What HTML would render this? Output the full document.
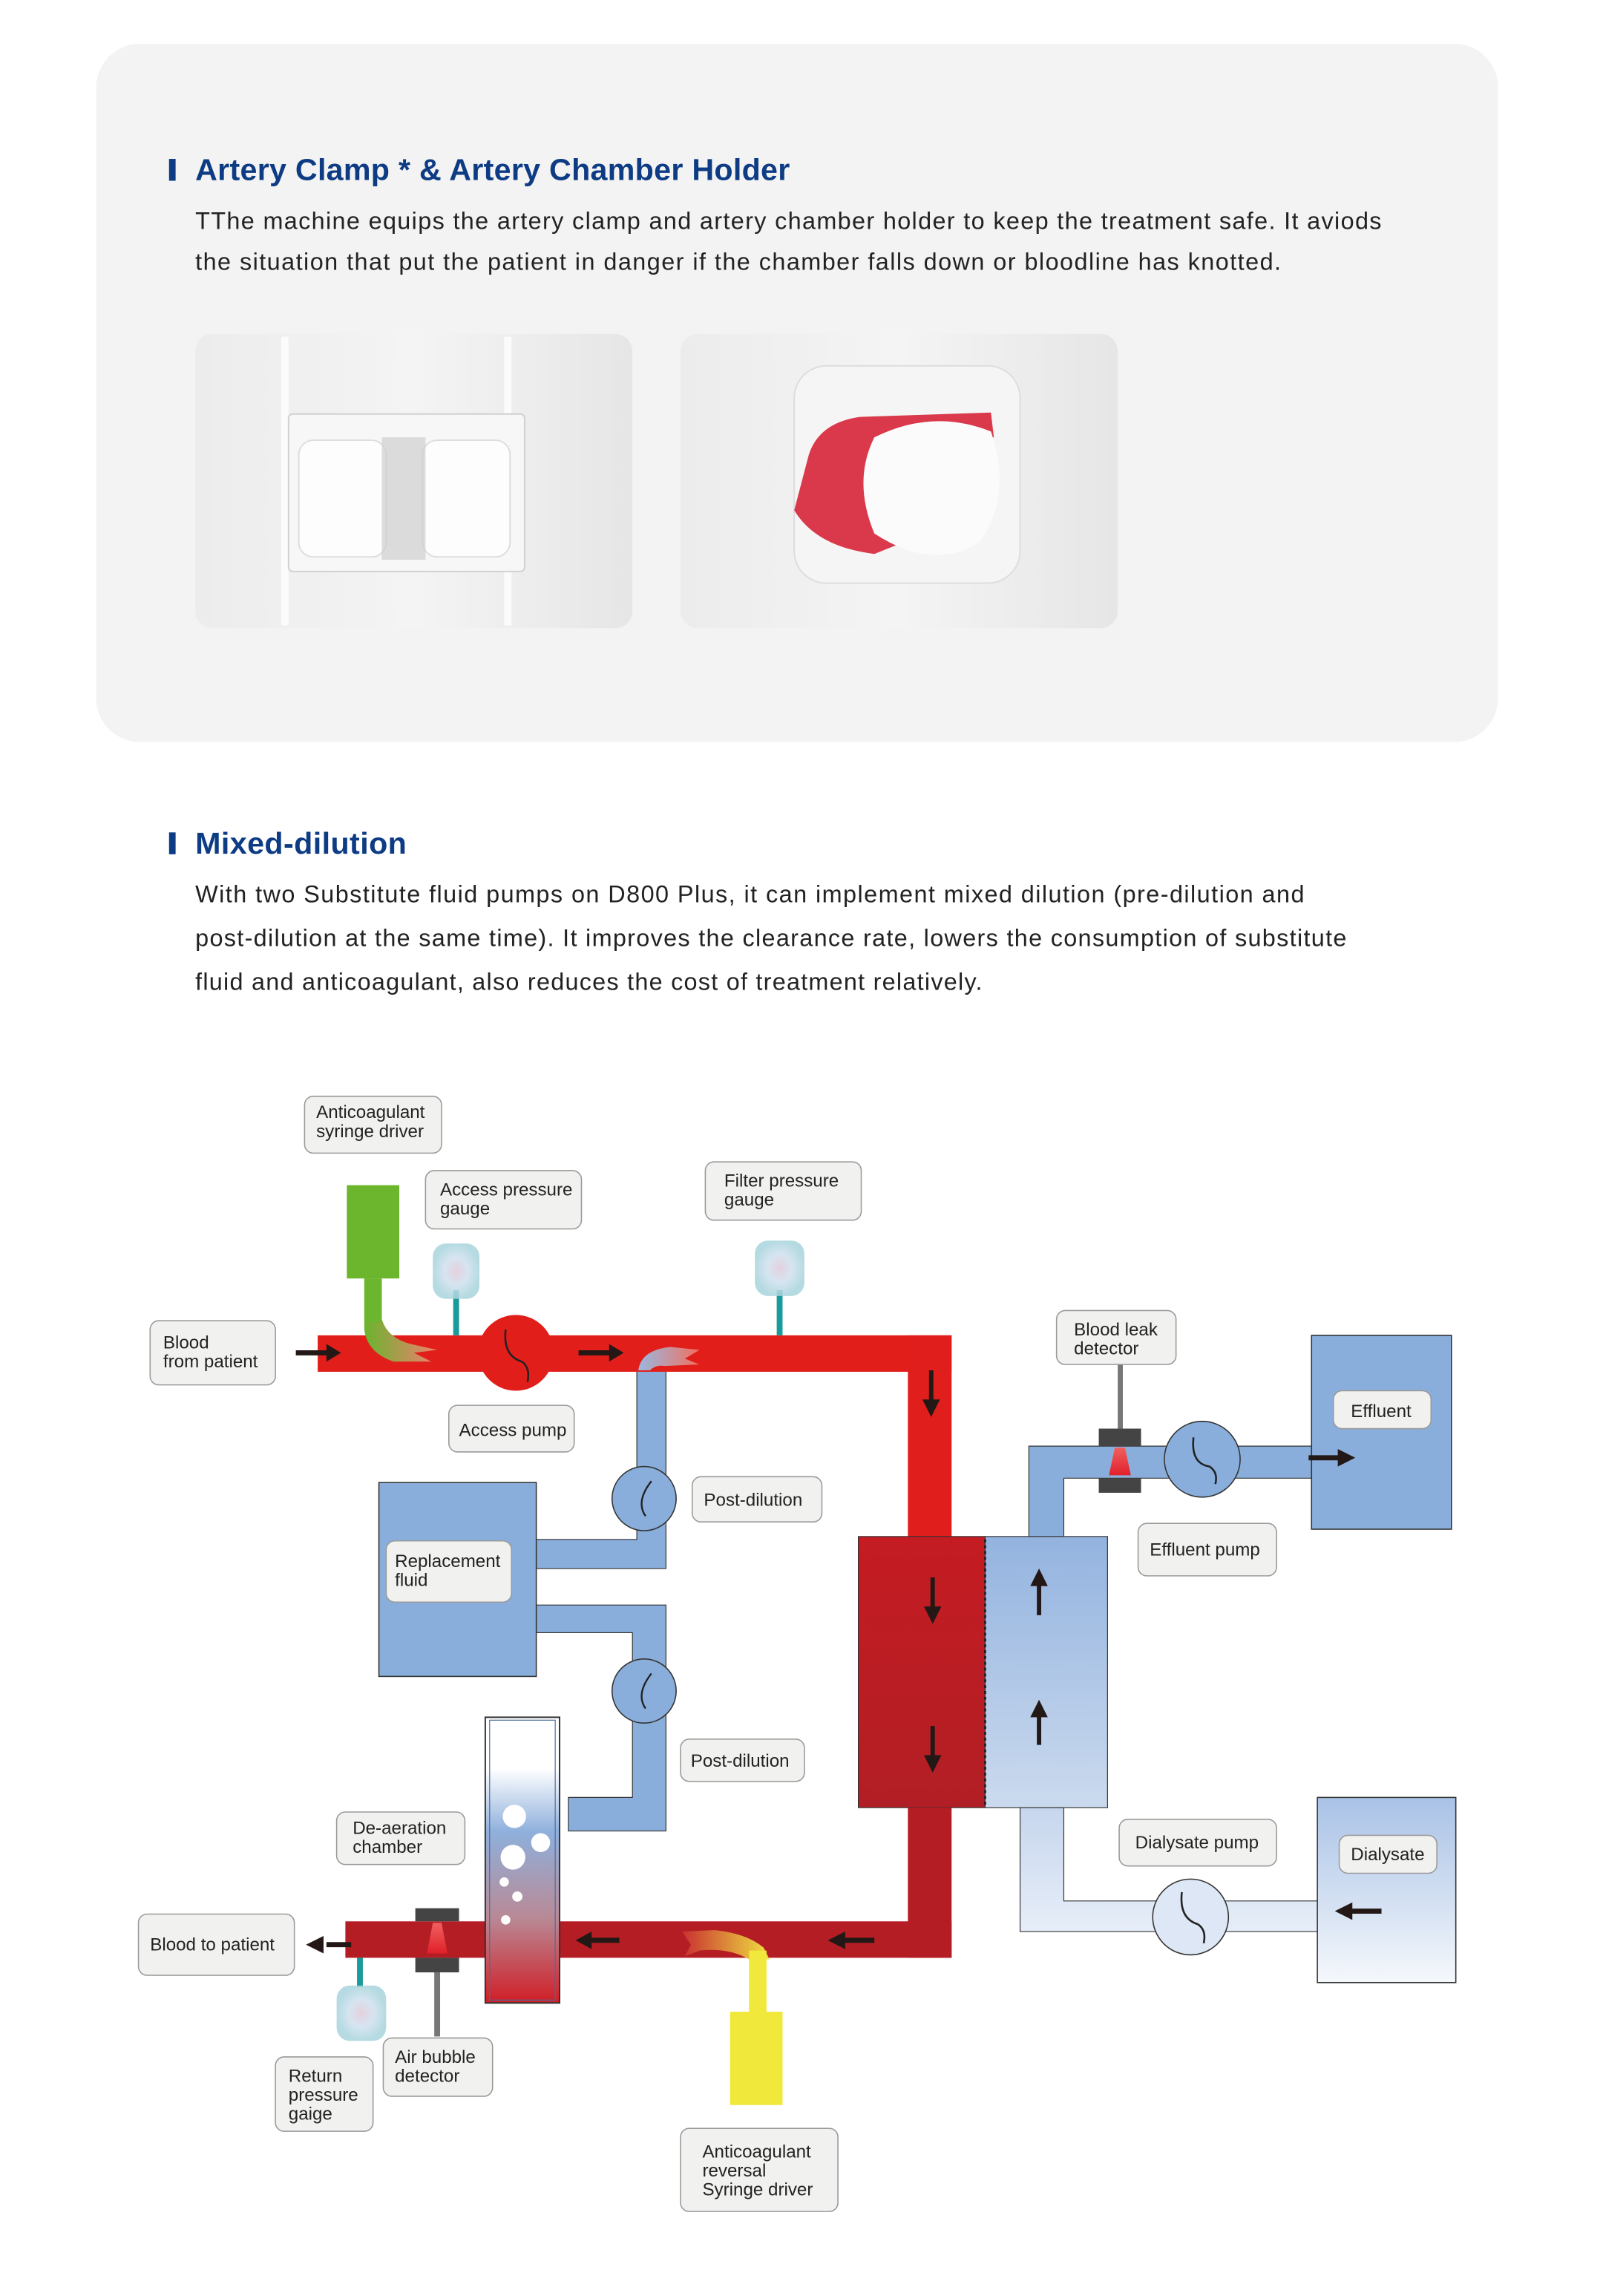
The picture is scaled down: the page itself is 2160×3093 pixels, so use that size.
<!DOCTYPE html>
<html><head><meta charset="utf-8"><style>
html,body{margin:0;padding:0;background:#fff;}
svg{display:block;}
text{font-family:"Liberation Sans",sans-serif;}
.lb{font-size:12.3px;fill:#222;}
</style></head><body>
<svg width="2160" height="3093" viewBox="0 0 1100 1575" preserveAspectRatio="none" xmlns="http://www.w3.org/2000/svg">
<defs>
<linearGradient id="photo" x1="0" y1="0" x2="1" y2="0"><stop offset="0" stop-color="#ececec"/><stop offset="0.5" stop-color="#f4f4f4"/><stop offset="1" stop-color="#e6e6e6"/></linearGradient>
<linearGradient id="dialyzer" x1="0" y1="0" x2="0" y2="1"><stop offset="0" stop-color="#93b3df"/><stop offset="1" stop-color="#cbdaee"/></linearGradient>
<linearGradient id="filter" x1="0" y1="0" x2="0" y2="1"><stop offset="0" stop-color="#c41c22"/><stop offset="1" stop-color="#b21e25"/></linearGradient>
<linearGradient id="dial" x1="0" y1="0" x2="0" y2="1"><stop offset="0" stop-color="#a9c2e6"/><stop offset="1" stop-color="#f5f8fc"/></linearGradient>
<linearGradient id="dline" x1="0" y1="0" x2="0" y2="1"><stop offset="0" stop-color="#c6d6ee"/><stop offset="1" stop-color="#e7eef8"/></linearGradient>
<linearGradient id="cham" x1="0" y1="0" x2="0" y2="1"><stop offset="0" stop-color="#ffffff"/><stop offset="0.18" stop-color="#ffffff"/><stop offset="0.4" stop-color="#8fb0dc"/><stop offset="0.7" stop-color="#b88a96"/><stop offset="1" stop-color="#d01e26"/></linearGradient>
<radialGradient id="gauge"><stop offset="0" stop-color="#e0c8d8"/><stop offset="0.5" stop-color="#cfe0ee"/><stop offset="1" stop-color="#a8d4dc"/></radialGradient>
<linearGradient id="glowG" x1="0" y1="0" x2="1" y2="0"><stop offset="0" stop-color="#6ab42e"/><stop offset="1" stop-color="#f08070"/></linearGradient>
<linearGradient id="glowB" x1="0" y1="0" x2="1" y2="0"><stop offset="0" stop-color="#9ab8e0"/><stop offset="1" stop-color="#f07060"/></linearGradient>
<linearGradient id="glowY" x1="0" y1="0" x2="1" y2="0"><stop offset="0" stop-color="#c83030"/><stop offset="1" stop-color="#f0e040"/></linearGradient>
<linearGradient id="cone" x1="0" y1="0" x2="0" y2="1"><stop offset="0" stop-color="#f06060"/><stop offset="1" stop-color="#e0202a"/></linearGradient>
</defs>

<!-- top panel -->
<rect x="66" y="30" width="962" height="479" rx="30" fill="#f3f3f3"/>
<rect x="116" y="109" width="4.5" height="15" fill="#0d3c84"/>
<text x="134" y="123.5" font-size="21" font-weight="bold" fill="#0d3c84" textLength="408">Artery Clamp * &amp; Artery Chamber Holder</text>
<text x="134" y="157" font-size="16.5" fill="#222" textLength="814">TThe machine equips the artery clamp and artery chamber holder to keep the treatment safe. It aviods</text>
<text x="134" y="185" font-size="16.5" fill="#222" textLength="745">the situation that put the patient in danger if the chamber falls down or bloodline has knotted.</text>

<!-- photo 1 -->
<rect x="134" y="229" width="300" height="202" rx="12" fill="url(#photo)"/>
<rect x="193" y="231" width="5" height="198" fill="#fbfbfb"/>
<rect x="346" y="231" width="5" height="198" fill="#fbfbfb"/>
<rect x="198" y="284" width="162" height="108" rx="3" fill="#f7f7f7" stroke="#d0d0d0" stroke-width="1"/>
<rect x="205" y="302" width="60" height="80" rx="10" fill="#fdfdfd" stroke="#ddd"/>
<rect x="290" y="302" width="60" height="80" rx="10" fill="#fdfdfd" stroke="#ddd"/>
<rect x="262" y="300" width="30" height="84" fill="#cfcfcf" opacity="0.7"/>
<!-- photo 2 -->
<rect x="467" y="229" width="300" height="202" rx="12" fill="url(#photo)"/>
<rect x="545" y="251" width="155" height="149" rx="22" fill="#f5f5f5" stroke="#ddd"/>
<path d="M555,312 Q562,290 590,286 L680,283 L682,300 Q640,310 610,330 Q600,360 620,372 L600,380 Q560,375 545,350 Z" fill="#d9394a"/>
<path d="M600,300 Q640,280 680,296 Q695,340 672,372 Q640,392 600,366 Q585,330 600,300 Z" fill="#fbfbfb"/>

<!-- heading 2 -->
<rect x="116" y="571" width="4.5" height="15" fill="#0d3c84"/>
<text x="134" y="585.5" font-size="21" font-weight="bold" fill="#0d3c84" textLength="145">Mixed-dilution</text>
<text x="134" y="619" font-size="16.5" fill="#222" textLength="761">With two Substitute fluid pumps on D800 Plus, it can implement mixed dilution (pre-dilution and</text>
<text x="134" y="649" font-size="16.5" fill="#222" textLength="790">post-dilution at the same time). It improves the clearance rate, lowers the consumption of substitute</text>
<text x="134" y="679" font-size="16.5" fill="#222" textLength="540">fluid and anticoagulant, also reduces the cost of treatment relatively.</text>

<!-- ===== diagram ===== -->
<!-- blue replacement lines -->
<path d="M437,938 L457,938 L457,1076 L368,1076 L368,1056 L437,1056 Z" fill="#8aaedb" stroke="#333" stroke-width="0.6"/>
<path d="M368,1101 L457,1101 L457,1256 L390,1256 L390,1233 L434,1233 L434,1120 L368,1120 Z" fill="#8aaedb" stroke="#333" stroke-width="0.6"/>
<rect x="260" y="1017" width="108" height="133" fill="#8aaedb" stroke="#333" stroke-width="0.8"/>
<circle cx="442" cy="1028" r="22" fill="#8aaedb" stroke="#333" stroke-width="0.8"/>
<path d="M447,1016 Q436,1030 443,1040" fill="none" stroke="#222" stroke-width="1.2"/>
<circle cx="442" cy="1160" r="22" fill="#8aaedb" stroke="#333" stroke-width="0.8"/>
<path d="M447,1148 Q436,1162 443,1172" fill="none" stroke="#222" stroke-width="1.2"/>

<!-- red circuit -->
<rect x="218" y="916" width="435" height="25" fill="#e21e1b"/>
<rect x="623" y="916" width="30" height="140" fill="#e01e1b"/>
<rect x="589" y="1054" width="87" height="186" fill="url(#filter)" stroke="#333" stroke-width="0.6"/>
<rect x="623" y="1240" width="30" height="103" fill="#b41d24"/>
<rect x="237" y="1318" width="416" height="25" fill="#b41d24"/>
<circle cx="354" cy="928" r="26" fill="#e21e1b"/>
<path d="M347,912 Q345,930 358,934 Q364,938 362,948" fill="none" stroke="#222" stroke-width="1.3"/>
<!-- glow blue into red -->
<path d="M438,940 Q440,926 460,924 L480,926 L470,932 L480,936 L456,937 Q450,936 446,940 Z" fill="url(#glowB)"/>

<!-- dialyzer -->
<rect x="676" y="1054" width="84" height="186" fill="url(#dialyzer)" stroke="#333" stroke-width="0.6"/>
<line x1="676" y1="1056" x2="676" y2="1238" stroke="#222" stroke-width="1.5" stroke-dasharray="2,2"/>

<!-- effluent line -->
<path d="M706,1054 L706,992 L900,992 L900,1014 L730,1014 L730,1054 Z" fill="#8aaedb" stroke="#333" stroke-width="0.6"/>
<rect x="900" y="916" width="96" height="133" fill="#8aaedb" stroke="#333" stroke-width="0.8"/>
<circle cx="825" cy="1001" r="26" fill="#8aaedb" stroke="#333" stroke-width="0.8"/>
<path d="M819,986 Q817,1004 830,1006 Q836,1010 834,1018" fill="none" stroke="#222" stroke-width="1.3"/>
<rect x="767" y="936" width="3.5" height="44" fill="#777"/>
<rect x="754" y="980" width="29" height="12" fill="#444"/>
<rect x="754" y="1014" width="29" height="10" fill="#444"/>
<path d="M765,993 L772,993 L776,1012 L761,1012 Z" fill="url(#cone)"/>

<!-- dialysate line -->
<path d="M700,1240 L730,1240 L730,1304 L904,1304 L904,1325 L700,1325 Z" fill="url(#dline)" stroke="#333" stroke-width="0.6"/>
<rect x="904" y="1233" width="95" height="127" fill="url(#dial)" stroke="#333" stroke-width="0.8"/>
<circle cx="817" cy="1315" r="26" fill="#dde7f5" stroke="#333" stroke-width="0.8"/>
<path d="M811,1298 Q809,1316 822,1320 Q828,1324 826,1333" fill="none" stroke="#222" stroke-width="1.3"/>

<!-- chamber -->
<rect x="333" y="1178" width="51" height="196" fill="url(#cham)" stroke="#333" stroke-width="1"/>
<rect x="336" y="1180" width="45" height="192" fill="none" stroke="#4a6a9a" stroke-width="0.6"/>
<circle cx="353" cy="1246" r="8" fill="#fff"/>
<circle cx="371" cy="1264" r="6.5" fill="#fff"/>
<circle cx="352" cy="1274" r="8.5" fill="#fff"/>
<circle cx="346" cy="1291" r="3.2" fill="#fff"/>
<circle cx="355" cy="1301" r="3.5" fill="#fff"/>
<circle cx="347" cy="1317" r="3.2" fill="#fff"/>

<!-- air bubble detector -->
<rect x="285" y="1309" width="30" height="9" fill="#444"/>
<rect x="285" y="1343" width="30" height="10" fill="#444"/>
<path d="M297,1319 L303,1319 L307,1340 L293,1340 Z" fill="url(#cone)"/>
<rect x="298" y="1353" width="4" height="44" fill="#777"/>

<!-- green syringe -->
<rect x="238" y="813" width="36" height="64" fill="#6cb62e"/>
<path d="M250,877 L262,877 L262,905 Q266,918 282,922 L300,926 L284,928 L296,934 L270,934 Q252,928 250,912 Z" fill="url(#glowG)"/>
<rect x="250" y="877" width="12" height="30" fill="#6cb62e"/>

<!-- yellow syringe -->
<rect x="501" y="1380" width="36" height="64" fill="#f0e83a"/>
<path d="M468,1325 L490,1324 Q512,1326 524,1336 L528,1344 L514,1344 Q500,1336 480,1338 L470,1342 L474,1334 Z" fill="url(#glowY)"/>
<rect x="514" y="1338" width="12" height="44" fill="#f0e83a"/>

<!-- gauges -->
<rect x="311" y="885" width="4" height="31" fill="#1a9b9b"/>
<rect x="533" y="885" width="4" height="31" fill="#1a9b9b"/>
<rect x="245" y="1343" width="4" height="20" fill="#1a9b9b"/>
<rect x="297" y="853" width="32" height="38" rx="9" fill="url(#gauge)" opacity="0.85"/>
<rect x="518" y="851" width="34" height="38" rx="9" fill="url(#gauge)" opacity="0.85"/>
<rect x="231" y="1362" width="34" height="38" rx="9" fill="url(#gauge)" opacity="0.85"/>

<!-- arrows -->
<g fill="#231815" stroke="#231815">
<line x1="203" y1="928" x2="226" y2="928" stroke-width="3.5"/><path d="M224,922 L234,928 L224,934 Z" stroke="none"/>
<line x1="397" y1="928" x2="420" y2="928" stroke-width="3.5"/><path d="M418,922 L428,928 L418,934 Z" stroke="none"/>
<line x1="639" y1="940" x2="639" y2="962" stroke-width="3"/><path d="M633,960 L639,972 L645,960 Z" stroke="none"/>
<line x1="640" y1="1082" x2="640" y2="1104" stroke-width="3"/><path d="M634,1102 L640,1114 L646,1102 Z" stroke="none"/>
<line x1="640" y1="1184" x2="640" y2="1206" stroke-width="3"/><path d="M634,1204 L640,1216 L646,1204 Z" stroke="none"/>
<line x1="713" y1="1086" x2="713" y2="1108" stroke-width="3"/><path d="M707,1088 L713,1076 L719,1088 Z" stroke="none"/>
<line x1="713" y1="1176" x2="713" y2="1197" stroke-width="3"/><path d="M707,1178 L713,1166 L719,1178 Z" stroke="none"/>
<line x1="898" y1="1000" x2="920" y2="1000" stroke-width="3.5"/><path d="M918,994 L930,1000 L918,1006 Z" stroke="none"/>
<line x1="926" y1="1311" x2="948" y2="1311" stroke-width="3.5"/><path d="M928,1305 L916,1311 L928,1317 Z" stroke="none"/>
<line x1="578" y1="1331" x2="600" y2="1331" stroke-width="3.5"/><path d="M580,1325 L568,1331 L580,1337 Z" stroke="none"/>
<line x1="404" y1="1331" x2="425" y2="1331" stroke-width="3.5"/><path d="M406,1325 L395,1331 L406,1337 Z" stroke="none"/>
<line x1="224" y1="1334" x2="241" y2="1334" stroke-width="3.5"/><path d="M222,1328 L210,1334 L222,1340 Z" stroke="none"/>
</g>

<!-- labels -->
<g fill="#f1f2f0" stroke="#9a9a9a" stroke-width="0.8">
<rect x="209" y="752" width="94" height="39" rx="6"/>
<rect x="292" y="803" width="107" height="40" rx="6"/>
<rect x="484" y="797" width="107" height="40" rx="6"/>
<rect x="103" y="906" width="86" height="44" rx="6"/>
<rect x="308" y="964" width="86" height="32" rx="6"/>
<rect x="725" y="899" width="82" height="37" rx="6"/>
<rect x="915" y="954" width="67" height="26" rx="6"/>
<rect x="475" y="1013" width="89" height="31" rx="6"/>
<rect x="265" y="1057" width="86" height="42" rx="6"/>
<rect x="781" y="1045" width="95" height="36" rx="6"/>
<rect x="467" y="1193" width="85" height="29" rx="6"/>
<rect x="231" y="1243" width="88" height="36" rx="6"/>
<rect x="768" y="1248" width="108" height="32" rx="6"/>
<rect x="919" y="1259" width="67" height="26" rx="6"/>
<rect x="95" y="1313" width="107" height="42" rx="6"/>
<rect x="189" y="1411" width="67" height="51" rx="6"/>
<rect x="263" y="1398" width="75" height="40" rx="6"/>
<rect x="467" y="1460" width="108" height="57" rx="6"/>
</g>
<g class="lb">
<text x="217" y="767">Anticoagulant</text><text x="217" y="780">syringe driver</text>
<text x="302" y="820">Access pressure</text><text x="302" y="833">gauge</text>
<text x="497" y="814">Filter pressure</text><text x="497" y="827">gauge</text>
<text x="112" y="925">Blood</text><text x="112" y="938">from patient</text>
<text x="315" y="985">Access pump</text>
<text x="737" y="916">Blood leak</text><text x="737" y="929">detector</text>
<text x="927" y="972">Effluent</text>
<text x="483" y="1033">Post-dilution</text>
<text x="271" y="1075">Replacement</text><text x="271" y="1088">fluid</text>
<text x="789" y="1067">Effluent pump</text>
<text x="474" y="1212">Post-dilution</text>
<text x="242" y="1258">De-aeration</text><text x="242" y="1271">chamber</text>
<text x="779" y="1268">Dialysate pump</text>
<text x="927" y="1276">Dialysate</text>
<text x="103" y="1338">Blood to patient</text>
<text x="198" y="1428">Return</text><text x="198" y="1441">pressure</text><text x="198" y="1454">gaige</text>
<text x="271" y="1415">Air bubble</text><text x="271" y="1428">detector</text>
<text x="482" y="1480">Anticoagulant</text><text x="482" y="1493">reversal</text><text x="482" y="1506">Syringe driver</text>
</g>
</svg>
</body></html>
